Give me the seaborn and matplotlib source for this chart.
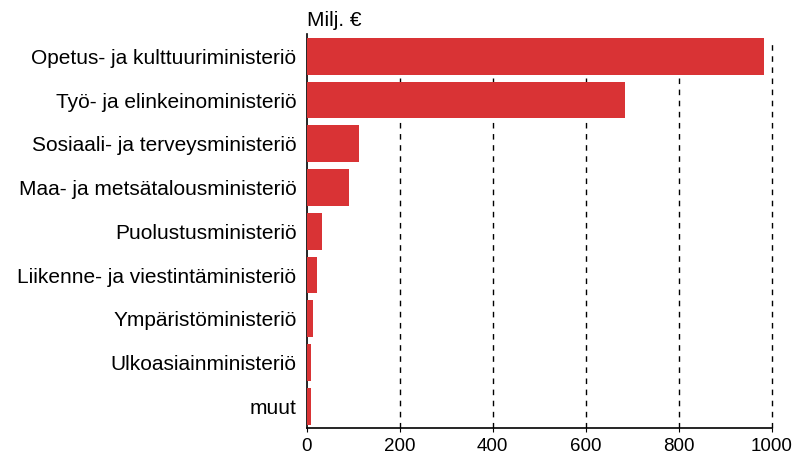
import matplotlib
matplotlib.use("Agg")
import matplotlib.pyplot as plt
import seaborn as sns
import pandas as pd

# Data
ministries = [
    "Opetus- ja kulttuuriministeriö",
    "Työ- ja elinkeinoministeriö",
    "Sosiaali- ja terveysministeriö",
    "Maa- ja metsätalousministeriö",
    "Puolustusministeriö",
    "Liikenne- ja viestintäministeriö",
    "Ympäristöministeriö",
    "Ulkoasiainministeriö",
    "muut",
]
values = [983, 684, 113, 91, 32, 22, 13, 9, 9]
x_ticks = [0, 200, 400, 600, 800, 1000]

df = pd.DataFrame({"ministry": ministries, "value": values})

sns.set_style("white")
plt.rcParams["font.family"] = ["Liberation Sans", "DejaVu Sans"]

fig = plt.figure(figsize=(7.93, 4.59), dpi=100)
ax = fig.add_axes([0.387, 0.067, 0.586, 0.858])

sns.barplot(data=df, x="value", y="ministry", color="#D93335", saturation=1,
            width=0.84, linewidth=0, ax=ax, zorder=3)

ax.set_xlim(0, 1000)
ax.set_ylim(8.5, -0.5)
ax.set_xticks(x_ticks)
ax.set_axisbelow(True)
# dashed vertical grid lines, drawn by hand so the one at 1000 is not clipped
for t in x_ticks[1:]:
    ax.axvline(t, ymax=0.985, color="black", linestyle=(0, (4, 4)), linewidth=1,
               zorder=1, clip_on=False)

for s in ["top", "right"]:
    ax.spines[s].set_visible(False)
for s in ["left", "bottom"]:
    ax.spines[s].set_color("black")
    ax.spines[s].set_linewidth(1.2)

ax.tick_params(axis="x", bottom=True, length=3, color="black",
               labelsize=13.5, labelcolor="black", pad=4)
ax.tick_params(axis="y", left=False, labelsize=15, labelcolor="black", pad=4)
ax.set_xlabel("")
ax.set_ylabel("")

ax.text(0, 1.012, "Milj. €", transform=ax.transAxes, fontsize=15,
        ha="left", va="bottom", color="black")

fig.savefig("out.png", dpi=100)
